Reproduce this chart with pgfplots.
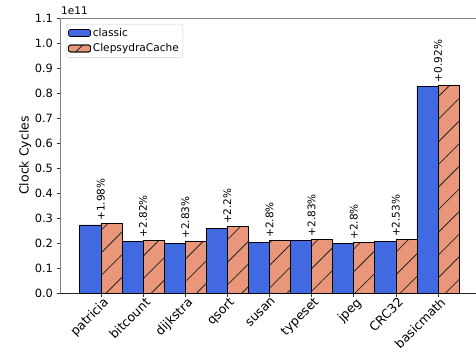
\documentclass[border=0pt]{standalone}
\usepackage{pgfplots}
\pgfplotsset{compat=1.18}
\usepackage{fontspec}
\setmainfont{DejaVu Sans}
\usetikzlibrary{patterns.meta}
\definecolor{cblue}{HTML}{4169E1}
\definecolor{corange}{HTML}{E9967A}
\begin{document}
\fontsize{10}{12}\selectfont
\begin{tikzpicture}
\begin{axis}[
  at={(0,0)}, anchor=south west,
  scale only axis, width=416pt, height=275pt,
  xmin=-0.97, xmax=8.9, ymin=0, ymax=1.1,
  axis lines*=left,
  x axis line style={black!85, line width=0.8pt},
  y axis line style={black!50, line width=0.8pt},
  tick align=outside, major tick length=3.5pt,
  tick style={black!80, line width=0.6pt},
  xtick pos=bottom, ytick pos=left,
  xtick={0,...,8},
  xticklabels={patricia,bitcount,dijkstra,qsort,susan,typeset,jpeg,CRC32,basicmath},
  xticklabel style={rotate=45, anchor=north east, inner sep=1pt, xshift=2pt, font=\fontsize{12.5}{14}\selectfont},
  ytick={0,0.1,...,1.1},
  yticklabel style={/pgf/number format/fixed, /pgf/number format/precision=1, /pgf/number format/fixed zerofill, font=\fontsize{11.4}{13}\selectfont},
  /pgf/number format/assume math mode=true,
  ylabel={Clock Cycles},
  ylabel style={at={(axis description cs:-0.084,0.5)}, anchor=center, rotate=0, font=\fontsize{12.5}{14}\selectfont},
  legend style={at={(0,1)}, anchor=north west, xshift=6pt, yshift=-6pt,
    draw=black!20, rounded corners=2pt, inner xsep=2pt, inner ysep=2pt,
    row sep=2pt, font=\fontsize{10.6}{12}\selectfont},
  legend cell align=left,
  legend image code/.code={\draw[#1] (0pt,-3.5pt) rectangle (22pt,3.5pt);},
  clip=false,
]
\addplot[ybar, bar width=0.5, bar shift=-0.25, fill=cblue, draw=black, line width=0.7pt]
coordinates {(0,0.2725) (1,0.205) (2,0.200) (3,0.259) (4,0.204) (5,0.209) (6,0.197) (7,0.208) (8,0.825)};
\addlegendentry{classic}
\addplot[ybar, bar width=0.5, bar shift=0.25, fill=corange, draw=black, line width=0.7pt,
  postaction={pattern={Lines[angle=45,distance=16pt,line width=0.8pt]}, pattern color=black!85},
  nodes near coords={\pgfplotspointmeta\%}, point meta=explicit symbolic,
  every node near coord/.append style={rotate=90, anchor=west, inner sep=2.5pt, text=black, font=\fontsize{10.5}{12}\selectfont}]
coordinates {(0,0.2779) [+1.98] (1,0.2108) [+2.82] (2,0.2057) [+2.83] (3,0.2647) [+2.2] (4,0.2097) [+2.8] (5,0.2149) [+2.83] (6,0.2025) [+2.8] (7,0.2133) [+2.53] (8,0.8326) [+0.92]};
\addlegendentry{ClepsydraCache}
\draw[black!50, line width=0.8pt] (rel axis cs:0,1) -- (rel axis cs:1,1);
\node[anchor=south west, inner sep=0pt, font=\fontsize{10.5}{12}\selectfont] at ([xshift=1pt,yshift=3pt]rel axis cs:0,1) {1e11};
\end{axis}
\pgfresetboundingbox
\path[use as bounding box] (-60pt,-61pt) rectangle (416pt,293pt);
\end{tikzpicture}
\end{document}
